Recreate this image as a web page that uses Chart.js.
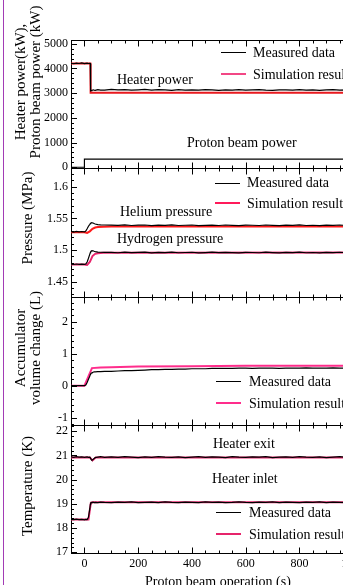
<!DOCTYPE html>
<html>
<head>
<meta charset="utf-8">
<title>Proton beam operation</title>
<script src="https://cdn.jsdelivr.net/npm/chart.js@4.4.1/dist/chart.umd.min.js"></script>
<style>
  html, body { margin: 0; padding: 0; background: #fff; }
  body { width: 343px; height: 585px; overflow: hidden; position: relative;
         font-family: "Liberation Serif", "Times New Roman", serif; color: #000; }
  #plot { position: absolute; left: 0; top: 0; }
  .lbl { position: absolute; white-space: nowrap; font-size: 14px; line-height: 16px; transform: translateY(-50%); }
  .ytitle { position: absolute; white-space: nowrap; font-size: 15px; line-height: 15px; text-align: center;
            transform: translate(-50%, -50%) rotate(-90deg); }
  .key { position: absolute; width: 25px; height: 0; }
  .frame { position: absolute; left: 3px; top: 0; width: 0; height: 585px; border-left: 1.5px solid #a23bb5; }
</style>
</head>
<body>
<div class="frame"></div>
<canvas id="plot" width="380" height="585"></canvas>

<!-- y axis titles -->
<div class="ytitle" style="left:28px; top:82px;">Heater power(kW),<br>Proton beam power (kW)</div>
<div class="ytitle" style="left:27px; top:218px;">Pressure (MPa)</div>
<div class="ytitle" style="left:28px; top:348px;">Accumulator<br>volume change (L)</div>
<div class="ytitle" style="left:27px; top:486px;">Temperature (K)</div>

<!-- annotations -->
<div class="lbl" style="left:117px; top:80px;">Heater power</div>
<div class="lbl" style="left:187px; top:143px;">Proton beam power</div>
<div class="lbl" style="left:120px; top:212px;">Helium pressure</div>
<div class="lbl" style="left:117px; top:239px;">Hydrogen pressure</div>
<div class="lbl" style="left:213px; top:444px;">Heater exit</div>
<div class="lbl" style="left:212px; top:479px;">Heater inlet</div>
<div class="lbl" style="left:145px; top:582px;">Proton beam operation (s)</div>

<!-- legends -->
<div class="key" style="left:221px; top:52px; border-top:1.3px solid #000;"></div>
<div class="lbl" style="left:253px; top:53px;">Measured data</div>
<div class="key" style="left:221px; top:73px; border-top:2px solid #f24785;"></div>
<div class="lbl" style="left:253px; top:75px;">Simulation result</div>

<div class="key" style="left:215px; top:183px; border-top:1.3px solid #000;"></div>
<div class="lbl" style="left:247px; top:183px;">Measured data</div>
<div class="key" style="left:215px; top:202px; border-top:2px solid #ff1a5a;"></div>
<div class="lbl" style="left:247px; top:204px;">Simulation result</div>

<div class="key" style="left:216px; top:381px; border-top:1.3px solid #000;"></div>
<div class="lbl" style="left:249px; top:382px;">Measured data</div>
<div class="key" style="left:216px; top:402px; border-top:2px solid #ff2d8c;"></div>
<div class="lbl" style="left:249px; top:404px;">Simulation result</div>

<div class="key" style="left:216px; top:512px; border-top:1.3px solid #000;"></div>
<div class="lbl" style="left:249px; top:513px;">Measured data</div>
<div class="key" style="left:216px; top:533px; border-top:2px solid #e6246b;"></div>
<div class="lbl" style="left:249px; top:535px;">Simulation result</div>

<script>
const FONT = "'Liberation Serif', 'Times New Roman', serif";

// x axis (s)
const xMin = -50, xMax = 1100;
const xTicks = [0, 200, 400, 600, 800, 1000];
const xMajorStep = 200, xMinorStep = 50;

// measured data, shared time base (s)
const measTime = [
  -50, -40, -30, -20, -10, 0, 5, 10, 15, 20,
  22, 23, 25, 28, 32, 36, 40, 50, 60, 75,
  100, 125, 150, 175, 200, 225, 250, 275, 300, 325,
  350, 375, 400, 425, 450, 475, 500, 525, 550, 575,
  600, 625, 650, 675, 700, 725, 750, 775, 800, 825,
  850, 875, 900, 925, 950, 975, 1000, 1025, 1050, 1075, 1100
];

// heater power measured (kW)
const heaterMeas = [
  4210, 4190, 4215, 4200, 4220, 4195, 4205, 4210, 4200, 4205,
  4200, 3100, 3120, 3110, 3135, 3120, 3110, 3140, 3125, 3120,
  3150, 3130, 3145, 3120, 3135, 3150, 3125, 3140, 3130, 3115,
  3140, 3125, 3135, 3120, 3145, 3130, 3115, 3135, 3125, 3140,
  3120, 3130, 3145, 3125, 3115, 3135, 3130, 3120, 3140, 3125,
  3135, 3115, 3130, 3140, 3120, 3130, 3125, 3135, 3120, 3130, 3125
];
const heaterSimTime = [-50, 22, 23, 1100];
const heaterSim = [4200, 4200, 3020, 3020];
const beamTime = [-50, 0, 0, 1100];
const beamPower = [0, 0, 330, 330];

// pressures (MPa)
const heliumMeas = [
  1.5290, 1.5284, 1.5294, 1.5287, 1.5292, 1.5286, 1.5300, 1.5335, 1.5375, 1.5405,
  1.5418, 1.5422, 1.5428, 1.5431, 1.5427, 1.5418, 1.5410, 1.5402, 1.5398, 1.5395,
  1.5393, 1.5388, 1.5396, 1.5387, 1.5392, 1.5395, 1.5386, 1.5393, 1.5389, 1.5396,
  1.5387, 1.5391, 1.5395, 1.5386, 1.5390, 1.5394, 1.5387, 1.5395, 1.5390, 1.5386,
  1.5393, 1.5391, 1.5387, 1.5395, 1.5390, 1.5386, 1.5394, 1.5389, 1.5396, 1.5387,
  1.5391, 1.5386, 1.5393, 1.5390, 1.5395, 1.5387, 1.5391, 1.5389, 1.5394, 1.5386, 1.5391
];
const hydrogenMeas = [
  1.4777, 1.4771, 1.4779, 1.4773, 1.4778, 1.4772, 1.4780, 1.4810, 1.4870, 1.4935,
  1.4960, 1.4970, 1.4982, 1.4990, 1.4988, 1.4980, 1.4975, 1.4968, 1.4965, 1.4963,
  1.4962, 1.4957, 1.4966, 1.4958, 1.4963, 1.4967, 1.4956, 1.4962, 1.4959, 1.4966,
  1.4957, 1.4961, 1.4965, 1.4956, 1.4960, 1.4966, 1.4958, 1.4964, 1.4960, 1.4956,
  1.4963, 1.4961, 1.4957, 1.4966, 1.4960, 1.4956, 1.4964, 1.4959, 1.4966, 1.4957,
  1.4961, 1.4956, 1.4963, 1.4960, 1.4965, 1.4957, 1.4962, 1.4959, 1.4964, 1.4956, 1.4961
];
const pressSimTime = [-50, 0, 10, 20, 30, 40, 50, 70, 100, 1100];
const heliumSim = [1.5282, 1.5280, 1.5270, 1.5295, 1.5335, 1.5355, 1.5363, 1.5368, 1.5370, 1.5372];
const hydrogenSim = [1.4772, 1.4770, 1.4764, 1.4810, 1.4905, 1.4940, 1.4950, 1.4955, 1.4958, 1.4960];

// accumulator volume change (L)
const accumMeas = [
  0, 0, 0, 0, 0, 0, 0.02, 0.10, 0.20, 0.30,
  0.35, 0.37, 0.39, 0.41, 0.42, 0.43, 0.43, 0.44, 0.44, 0.45,
  0.45, 0.46, 0.47, 0.47, 0.48, 0.49, 0.50, 0.50, 0.51, 0.51,
  0.52, 0.52, 0.53, 0.53, 0.53, 0.54, 0.54, 0.54, 0.54, 0.55,
  0.55, 0.54, 0.55, 0.55, 0.55, 0.54, 0.55, 0.55, 0.55, 0.56,
  0.55, 0.55, 0.55, 0.56, 0.55, 0.55, 0.56, 0.55, 0.55, 0.56, 0.55
];
const accumSimTime = [-50, 0, 28, 60, 100, 200, 400, 600, 1100];
const accumSim = [0, 0, 0.55, 0.57, 0.58, 0.60, 0.61, 0.62, 0.62];

// temperatures (K)
const exitMeas = [
  20.94, 20.92, 20.95, 20.93, 20.94, 20.92, 20.93, 20.94, 20.92, 20.93,
  20.90, 20.88, 20.84, 20.81, 20.83, 20.88, 20.91, 20.93, 20.95, 20.92,
  20.94, 20.92, 20.95, 20.93, 20.91, 20.94, 20.92, 20.95, 20.93, 20.92,
  20.94, 20.91, 20.93, 20.95, 20.92, 20.94, 20.93, 20.91, 20.95, 20.93,
  20.92, 20.94, 20.93, 20.95, 20.91, 20.93, 20.94, 20.92, 20.95, 20.93,
  20.92, 20.94, 20.91, 20.93, 20.95, 20.92, 20.94, 20.93, 20.92, 20.94, 20.93
];
const inletMeas = [
  18.36, 18.35, 18.37, 18.35, 18.36, 18.34, 18.36, 18.35, 18.45, 18.80,
  18.98, 19.03, 19.06, 19.05, 19.07, 19.05, 19.06, 19.05, 19.07, 19.06,
  19.05, 19.07, 19.06, 19.08, 19.05, 19.06, 19.07, 19.05, 19.08, 19.06,
  19.05, 19.07, 19.06, 19.05, 19.08, 19.06, 19.07, 19.05, 19.06, 19.08,
  19.06, 19.05, 19.07, 19.06, 19.08, 19.05, 19.07, 19.06, 19.05, 19.07,
  19.06, 19.08, 19.05, 19.07, 19.06, 19.05, 19.08, 19.06, 19.07, 19.05, 19.06
];
const exitSimTime = [-50, 20, 25, 30, 35, 42, 1100];
const exitSim = [20.92, 20.92, 20.86, 20.80, 20.84, 20.92, 20.92];
const inletSimTime = [-50, 15, 24, 30, 1100];
const inletSim = [18.35, 18.35, 19.05, 19.07, 19.07];

// panels, top to bottom
const panelIds = ["yPower", "yPress", "yAccum", "yTemp"];
const yRange = { yPower: [-40, 5150], yPress: [1.4266, 1.6291], yAccum: [-1.22, 2.788], yTemp: [16.97, 22.27] };
const yTicks = {
  yPower: [0, 1000, 2000, 3000, 4000, 5000],
  yPress: [1.45, 1.5, 1.55, 1.6],
  yAccum: [-1, 0, 1, 2],
  yTemp: [17, 18, 19, 20, 21, 22]
};
const yMajorStep = { yPower: 1000, yPress: 0.05, yAccum: 1, yTemp: 1 };
const yMinorStep = { yPower: 200, yPress: 0.01, yAccum: 0.2, yTemp: 0.2 };

const mk = (t, v) => t.map((x, i) => ({ x: x, y: v[i] }));

function meas(t, v, axis) {
  return { data: mk(t, v), yAxisID: axis, borderColor: "#000", borderWidth: 1.2 };
}
function sim(t, v, axis, color) {
  return { data: mk(t, v), yAxisID: axis, borderColor: color, borderWidth: 2 };
}

function yScale(id) {
  return {
    type: "linear",
    position: "left",
    stack: "panels",
    stackWeight: 1,
    min: yRange[id][0],
    max: yRange[id][1],
    afterFit: s => { s.width = 71; },
    afterBuildTicks: s => { s.ticks = yTicks[id].map(v => ({ value: v })); },
    grid: { display: false, drawTicks: false },
    border: { display: true, color: "#000", width: 1 },
    ticks: {
      autoSkip: false,
      color: "#000",
      padding: 3,
      font: { family: FONT, size: 12 },
      callback: v => String(+v.toFixed(2))
    }
  };
}

// frame lines and inward tick marks for each panel
const frameTicks = {
  id: "frameTicks",
  afterDraw(chart) {
    const ctx = chart.ctx;
    const area = chart.chartArea;
    const xs = chart.scales.x;
    const px = v => Math.round(v) + 0.5;
    ctx.save();
    ctx.strokeStyle = "#000";
    ctx.lineWidth = 1;
    ctx.beginPath();
    const edges = [area.top].concat(panelIds.slice(1).map(id => chart.scales[id].top));
    edges.forEach(y => { ctx.moveTo(area.left, px(y)); ctx.lineTo(area.right, px(y)); });
    const allEdges = edges.concat([area.bottom]);
    const k0 = Math.ceil(xMin / xMinorStep), k1 = Math.floor(xMax / xMinorStep);
    for (let k = k0; k <= k1; k++) {
      const v = k * xMinorStep;
      const len = v % xMajorStep === 0 ? 6 : 3;
      const x = px(xs.getPixelForValue(v));
      allEdges.forEach((y, i) => {
        const up = i > 0 ? len : 0;
        const down = i < allEdges.length - 1 ? len : 0;
        ctx.moveTo(x, px(y) - up);
        ctx.lineTo(x, px(y) + down);
      });
    }
    panelIds.forEach(id => {
      const s = chart.scales[id];
      const step = yMinorStep[id];
      const a = Math.ceil(s.min / step - 1e-6), b = Math.floor(s.max / step + 1e-6);
      for (let k = a; k <= b; k++) {
        const v = k * step;
        const r = v / yMajorStep[id];
        const len = Math.abs(r - Math.round(r)) < 1e-6 ? 6 : 3;
        const y = px(s.getPixelForValue(v));
        ctx.moveTo(area.left, y);
        ctx.lineTo(area.left + len, y);
      }
    });
    ctx.stroke();
    ctx.restore();
  }
};

// stacked left axes are laid out from the last declared one downwards,
// so the panels are declared bottom to top
const scales = {
  x: {
    type: "linear",
    position: "bottom",
    min: xMin,
    max: xMax,
    afterFit: s => { s.height = 32; },
    afterBuildTicks: s => { s.ticks = xTicks.map(v => ({ value: v })); },
    grid: { display: false, drawTicks: false },
    border: { display: true, color: "#000", width: 1 },
    ticks: {
      maxRotation: 0,
      autoSkip: false,
      color: "#000",
      padding: 4,
      font: { family: FONT, size: 12 },
      callback: v => String(v)
    }
  }
};
panelIds.slice().reverse().forEach(id => { scales[id] = yScale(id); });

new Chart(document.getElementById("plot"), {
  type: "line",
  data: {
    datasets: [
      meas(measTime, heaterMeas, "yPower"),
      meas(beamTime, beamPower, "yPower"),
      sim(heaterSimTime, heaterSim, "yPower", "#e8191e"),
      meas(measTime, heliumMeas, "yPress"),
      meas(measTime, hydrogenMeas, "yPress"),
      sim(pressSimTime, heliumSim, "yPress", "#ff1a1a"),
      sim(pressSimTime, hydrogenSim, "yPress", "#e8246b"),
      meas(measTime, accumMeas, "yAccum"),
      sim(accumSimTime, accumSim, "yAccum", "#ff2d8c"),
      meas(measTime, exitMeas, "yTemp"),
      meas(measTime, inletMeas, "yTemp"),
      sim(exitSimTime, exitSim, "yTemp", "#e6246b"),
      sim(inletSimTime, inletSim, "yTemp", "#e6246b")
    ]
  },
  options: {
    responsive: false,
    animation: false,
    devicePixelRatio: 1,
    elements: { point: { radius: 0 }, line: { tension: 0 } },
    layout: { padding: { top: 40, left: 0, right: 0, bottom: 0 } },
    plugins: { legend: { display: false }, tooltip: { enabled: false } },
    scales: scales
  },
  plugins: [frameTicks]
});
</script>
</body>
</html>
